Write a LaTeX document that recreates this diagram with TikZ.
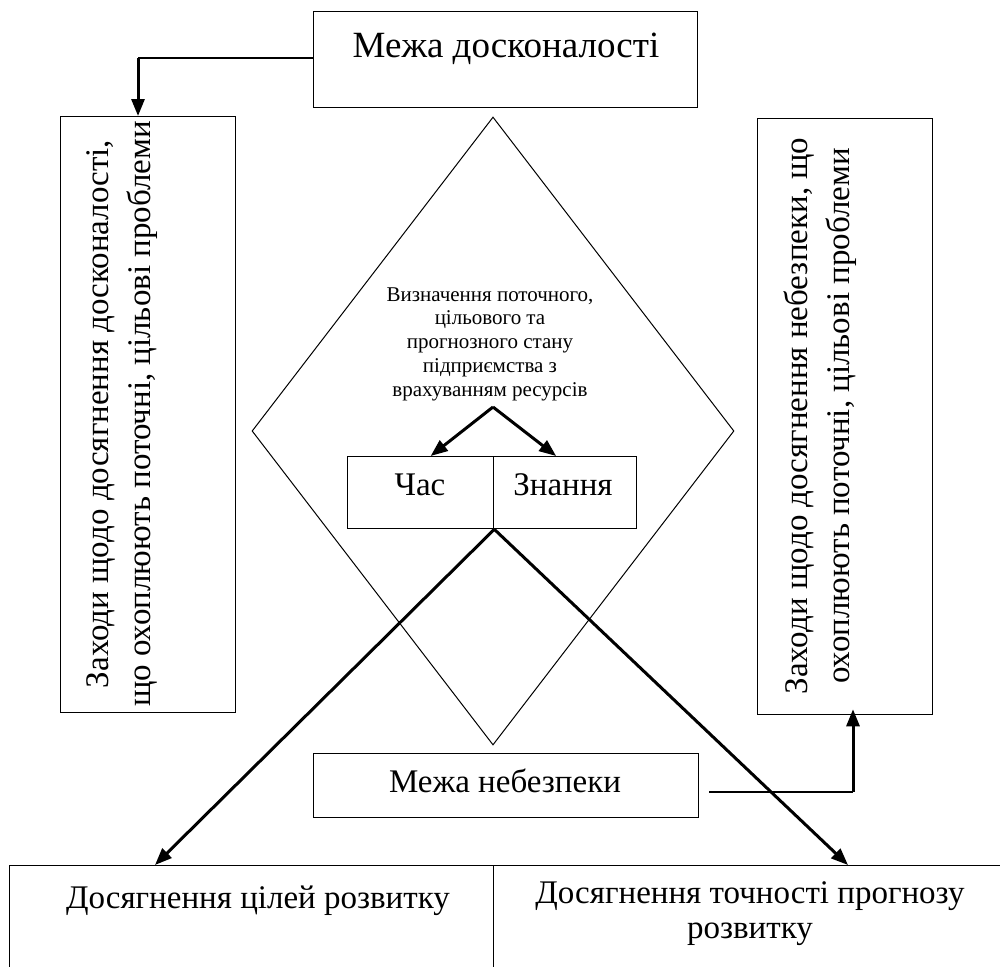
\documentclass[tikz,border=0pt]{standalone}
\usepackage{fontspec}
\setmainfont{Liberation Serif}
\usetikzlibrary{arrows.meta,shapes.geometric}
\begin{document}
\begin{tikzpicture}[x=1pt,y=-1pt,
  box/.style={draw, line width=1.3pt, rectangle, inner sep=0pt, anchor=north west},
  big/.style={font=\fontsize{33}{42}\selectfont, inner sep=0pt},
  title/.style={font=\fontsize{37}{44}\selectfont, inner sep=0pt},
  small/.style={font=\fontsize{21}{23.75}\selectfont, inner sep=0pt},
  thinline/.style={line width=1.3pt},
  heavy/.style={line width=3pt},
  arr/.style={-{Triangle[length=17pt,width=13pt]}}
]
\useasboundingbox (0,0) rectangle (1000,966);
\clip (0,0) rectangle (1000,966);

% top box
\node[box, minimum width=384pt, minimum height=96pt] (top) at (313,11) {};
\node[title, anchor=base] (toptxt) at (506,57) {Межа досконалості};

% left box
\node[box, minimum width=175pt, minimum height=596pt] (lbox) at (60,116) {};
\node[big, rotate=90, align=center] (ltxt) at (122,414)
  {Заходи щодо досягнення досконалості,\\що охоплюють поточні, цільові проблеми};

% right box
\node[box, minimum width=175pt, minimum height=596pt] (rbox) at (757,118) {};
\node[big, rotate=90, align=center] (rtxt) at (820,416)
  {Заходи щодо досягнення небезпеки, що\\охоплюють поточні, цільові проблеми};

% diamond
\node[diamond, draw, line width=1pt, minimum width=482pt, minimum height=628pt, inner sep=0pt] (dia) at (493,431) {};
\node[small, align=center] (dtxt) at (490,344)
  {Визначення поточного,\\цільового та\\прогнозного стану\\підприємства з\\врахуванням ресурсів};

% time / knowledge
\node[box, minimum width=146pt, minimum height=72pt] (chas) at (347,456) {};
\node[box, minimum width=143pt, minimum height=72pt] (znan) at (493,456) {};
\node[big, anchor=base] (chastxt) at (420,495) {Час};
\node[big, anchor=base] (znantxt) at (563,495) {Знання};

% danger box
\node[box, minimum width=385pt, minimum height=64pt] (danger) at (313,753) {};
\node[big, anchor=base] (dangertxt) at (505,792) {Межа небезпеки};

% bottom boxes
\node[box, minimum width=484pt, minimum height=200pt] (bl) at (9,865) {};
\node[box, minimum width=530pt, minimum height=200pt] (br) at (493,865) {};
\node[big, anchor=base] (bltxt) at (258,908) {Досягнення цілей розвитку};
\node[big, anchor=base] (brtxt) at (750,903) {Досягнення точності прогнозу};
\node[big, anchor=base] (brtxt2) at (750,938) {розвитку};

% coordinates
\coordinate (fork) at (493,407);
\coordinate (c1) at (138,58);
\coordinate (c2) at (853,792);
\coordinate (dstart) at (709,792);

% connectors
\draw[thinline] (top.west |- c1) -- (c1);
\draw[heavy, arr] (c1) -- (c1 |- lbox.north);
\draw[heavy, arr] (fork) -- ([xshift=10pt]chas.north);
\draw[heavy, arr] (fork) -- ([xshift=-9pt]znan.north);
\draw[heavy, arr] (chas.south east) -- (bl.north -| 155,0);
\draw[heavy, arr] (chas.south east) -- (br.north -| 848,0);
\draw[thinline] (dstart) -- (c2);
\draw[heavy, arr] (c2) -- ([yshift=6pt]c2 |- rbox.south);
\end{tikzpicture}
\end{document}
